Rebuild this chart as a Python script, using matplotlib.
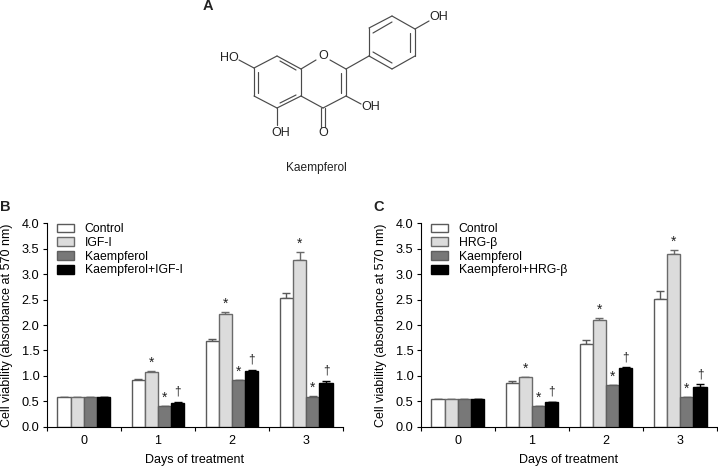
"""Kaempferol structure and cell viability bar charts."""

import matplotlib
matplotlib.use("Agg")  # Non-interactive backend
import matplotlib.pyplot as plt

plt.rcParams["font.family"] = ["Liberation Sans", "DejaVu Sans"]

W, H = 718, 466

days = ["0", "1", "2", "3"]

b_labels = ["Control", "IGF-I", "Kaempferol", "Kaempferol+IGF-I"]
b_values = [
    [0.58, 0.92, 1.69, 2.54],
    [0.58, 1.08, 2.22, 3.28],
    [0.58, 0.40, 0.91, 0.59],
    [0.58, 0.47, 1.09, 0.85],
]
b_errors = [
    [0.01, 0.01, 0.04, 0.09],
    [0.01, 0.01, 0.04, 0.15],
    [0.01, 0.01, 0.01, 0.01],
    [0.01, 0.015, 0.03, 0.05],
]

c_labels = ["Control", "HRG-β", "Kaempferol", "Kaempferol+HRG-β"]
c_values = [
    [0.55, 0.86, 1.63, 2.52],
    [0.55, 0.98, 2.10, 3.40],
    [0.55, 0.41, 0.82, 0.58],
    [0.55, 0.48, 1.16, 0.79],
]
c_errors = [
    [0.0, 0.04, 0.07, 0.15],
    [0.0, 0.005, 0.04, 0.08],
    [0.0, 0.005, 0.005, 0.005],
    [0.0, 0.01, 0.01, 0.04],
]

# series index -> symbol drawn above days 1, 2, 3
marks = {1: "*", 2: "*", 3: "†"}

fills = ["white", "#dcdcdc", "#787878", "black"]
edges = ["#5a5a5a", "#6a6a6a", "#5f5f5f", "black"]

# molecule bonds as (x0, y0, x1, y1) in image pixels
bonds = [
    # ring A
    (254, 68, 277, 56), (277, 56, 301, 69), (301, 69, 301, 96),
    (301, 96, 277, 108), (277, 108, 254, 96), (254, 96, 254, 68),
    (258, 72, 258, 93), (280, 61, 296, 70), (280, 103, 296, 95),
    # ring C
    (301, 69, 316, 60), (330, 60, 346, 69), (346, 69, 346, 96),
    (346, 96, 323, 108), (323, 108, 301, 96), (341, 73, 341, 93),
    # ring B
    (346, 69, 369, 56), (369, 56, 369, 28), (369, 28, 392, 16),
    (392, 16, 415, 29), (415, 29, 415, 56), (415, 56, 392, 69),
    (392, 69, 369, 56), (373, 33, 392, 22), (410, 33, 410, 52),
    (373, 52, 392, 63),
    # substituents
    (254, 68, 239, 60), (415, 29, 429, 21), (346, 96, 361, 104),
    (277, 108, 277, 125), (321, 108, 321, 127), (325, 108, 325, 127),
]
atoms = [
    ("O", 323, 56), ("HO", 229, 58), ("OH", 439, 17),
    ("OH", 371, 107), ("OH", 281, 133), ("O", 323, 133),
]


def draw_panel(ax, labels, values, errors, legend_x):
    width = 0.178
    for i, (label, vals, errs) in enumerate(zip(labels, values, errors)):
        xs = [d + 0.5 + (i - 1.5) * width for d in range(len(days))]
        ax.bar(xs, vals, width=width, color=fills[i], edgecolor=edges[i],
               linewidth=1.0, label=label, zorder=2)
        ax.errorbar(xs, vals, yerr=[[0] * len(errs), errs], fmt="none",
                    ecolor=edges[i], elinewidth=1.0, capsize=2.6,
                    capthick=1.0, zorder=1)
        if i in marks:
            for x, v, e in zip(xs[1:], vals[1:], errs[1:]):
                offset = 0.16 if marks[i] == "*" else 0.2
                ax.text(x, v + e + offset, marks[i], ha="center", va="center",
                        fontsize=10 if marks[i] == "*" else 8.5, color="#222222")

    ax.set_xlim(0, 4)
    ax.set_ylim(0, 4)
    ax.set_yticks([0, 0.5, 1, 1.5, 2, 2.5, 3, 3.5, 4])
    ax.set_yticklabels([f"{t:.1f}" for t in ax.get_yticks()])
    ax.set_xticks(range(5))
    ax.set_xticklabels([])
    ax.set_xticks([d + 0.5 for d in range(4)], minor=True)
    ax.set_xticklabels(days, minor=True)
    ax.tick_params(axis="x", which="minor", length=0, pad=6, labelsize=9)
    ax.tick_params(axis="x", which="major", length=3.2, width=0.8)
    ax.tick_params(axis="y", length=3.2, width=0.8, pad=2, labelsize=9.2)
    ax.spines["top"].set_visible(False)
    ax.spines["right"].set_visible(False)
    ax.set_xlabel("Days of treatment", fontsize=9, labelpad=0)
    ax.xaxis.set_label_coords(0.5, -0.135)
    ax.set_ylabel("Cell viability (absorbance at 570 nm)", fontsize=9, labelpad=6)
    ax.legend(loc="upper left", bbox_to_anchor=(legend_x, 1.0), frameon=False,
              fontsize=8.8, handlelength=1.42, handleheight=0.72,
              handletextpad=0.85, labelspacing=0.14, borderaxespad=0,
              borderpad=0)


fig = plt.figure(figsize=(W / 100, H / 100), dpi=100)

# overlay in image pixels for the structure and the panel letters
bg = fig.add_axes([0, 0, 1, 1])
bg.set_xlim(0, W)
bg.set_ylim(H, 0)
bg.axis("off")
for x0, y0, x1, y1 in bonds:
    bg.plot([x0, x1], [y0, y1], color="#4a4a4a", linewidth=0.85, solid_capstyle="round")
for text, x, y in atoms:
    bg.text(x, y, text, ha="center", va="center", fontsize=9, color="#222222")
bg.text(316, 168, "Kaempferol", ha="center", va="center", fontsize=8.6, color="#222222")
for text, x, y in [("A", 207.5, 6), ("B", 5, 207), ("C", 379, 207)]:
    bg.text(x, y, text, ha="center", va="center", fontsize=10.5,
            fontweight="bold", color="#222222")

top, bottom = 223.3, 426.7
ax_b = fig.add_axes([46.7 / W, 1 - bottom / H, 296.6 / W, (bottom - top) / H])
draw_panel(ax_b, b_labels, b_values, b_errors, 0.035)
ax_c = fig.add_axes([420.7 / W, 1 - bottom / H, 296.6 / W, (bottom - top) / H])
draw_panel(ax_c, c_labels, c_values, c_errors, 0.035)

fig.savefig("out.png", dpi=100)
plt.close(fig)
